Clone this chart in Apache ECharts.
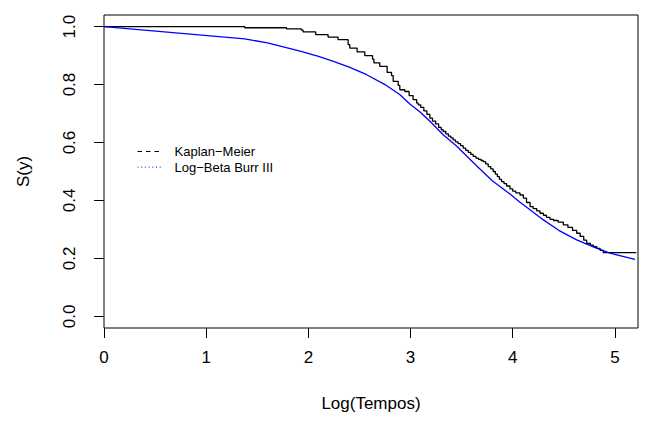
<!DOCTYPE html>
<html>
<head>
<meta charset="utf-8">
<script src="https://cdn.jsdelivr.net/npm/echarts@6/dist/echarts.min.js"></script>
<style>
html,body{margin:0;padding:0;background:#fff;}
#chart{width:648px;height:423px;}
</style>
</head>
<body>
<div id="chart"></div>
<script>
// Kaplan–Meier estimate (log time, survival after each drop)
var kmTime = [0, 1.377, 1.786, 1.932, 1.948, 2.072, 2.193, 2.291, 2.389, 2.405, 2.477, 2.552, 2.628, 2.641, 2.699, 2.771, 2.814, 2.830, 2.879, 2.895, 2.944, 2.986, 3.025, 3.060, 3.075, 3.100, 3.130, 3.160, 3.189, 3.215, 3.245, 3.275, 3.300, 3.319, 3.345, 3.370, 3.395, 3.417, 3.440, 3.465, 3.490, 3.515, 3.540, 3.565, 3.590, 3.613, 3.640, 3.665, 3.690, 3.711, 3.735, 3.760, 3.785, 3.809, 3.830, 3.850, 3.870, 3.891, 3.915, 3.940, 3.973, 4.000, 4.030, 4.071, 4.104, 4.135, 4.170, 4.200, 4.235, 4.267, 4.300, 4.330, 4.365, 4.400, 4.445, 4.495, 4.540, 4.585, 4.626, 4.660, 4.695, 4.724, 4.760, 4.790, 4.822, 4.855, 4.886, 5.210];
var kmSurv = [1.0, 0.996, 0.992, 0.988, 0.982, 0.972, 0.964, 0.955, 0.938, 0.926, 0.913, 0.900, 0.888, 0.875, 0.863, 0.842, 0.831, 0.811, 0.797, 0.782, 0.776, 0.762, 0.748, 0.736, 0.730, 0.721, 0.709, 0.697, 0.684, 0.674, 0.664, 0.652, 0.644, 0.638, 0.630, 0.622, 0.616, 0.609, 0.602, 0.596, 0.589, 0.581, 0.573, 0.566, 0.559, 0.552, 0.546, 0.542, 0.538, 0.534, 0.526, 0.517, 0.509, 0.500, 0.491, 0.482, 0.473, 0.465, 0.458, 0.450, 0.440, 0.432, 0.426, 0.419, 0.408, 0.393, 0.379, 0.372, 0.364, 0.356, 0.349, 0.342, 0.335, 0.331, 0.325, 0.316, 0.307, 0.297, 0.287, 0.276, 0.263, 0.252, 0.246, 0.241, 0.235, 0.228, 0.220, 0.220];

// Fitted Log-Beta Burr III survival
var fitTime = [0, 1.377, 1.6, 1.919, 2.1, 2.245, 2.4, 2.571, 2.75, 2.897, 2.993, 3.093, 3.2, 3.319, 3.45, 3.646, 3.8, 3.973, 4.071, 4.15, 4.30, 4.45, 4.626, 4.8, 4.952, 5.197];
var fitSurv = [1.0, 0.9575, 0.944, 0.915, 0.897, 0.880, 0.860, 0.834, 0.800, 0.765, 0.733, 0.705, 0.670, 0.627, 0.588, 0.520, 0.468, 0.422, 0.394, 0.373, 0.333, 0.297, 0.264, 0.238, 0.218, 0.197];

var xTicks = [0, 1, 2, 3, 4, 5];
var yTicks = [0, 0.2, 0.4, 0.6, 0.8, 1.0];
var seriesNames = ['Kaplan\u2212Meier', 'Log\u2212Beta Burr III'];

function pairs(xs, ys) { return xs.map(function (x, i) { return [x, ys[i]]; }); }

var chart = echarts.init(document.getElementById('chart'), null, {renderer: 'svg'});
var font = 'Liberation Sans, Arial, Helvetica, sans-serif';
chart.setOption({
  backgroundColor: '#fff',
  animation: false,
  textStyle: {fontFamily: font, color: '#000'},
  grid: {left: 104, right: 10, top: 15, bottom: 95, show: true, borderColor: '#000', borderWidth: 1, backgroundColor: 'transparent'},
  legend: {
    orient: 'vertical', left: 137, top: 145, padding: 0,
    itemWidth: 24, itemHeight: 14, itemGap: 2.6,
    textStyle: {fontSize: 13, color: '#000', fontFamily: font, padding: [0, 0, 0, 8]},
    data: [
      {name: seriesNames[0], itemStyle: {opacity: 0}, lineStyle: {type: [4.5, 4], width: 1, color: '#000'}},
      {name: seriesNames[1], itemStyle: {opacity: 0}, lineStyle: {type: [1, 2.7], width: 1, color: '#0000ff'}}
    ]
  },
  xAxis: {
    type: 'value', min: 0, max: 5.226, interval: 1,
    axisLine: {show: false, onZero: false},
    axisTick: {show: true, length: 10, customValues: xTicks, lineStyle: {color: '#000', width: 1}},
    axisLabel: {customValues: xTicks, fontSize: 17, color: '#000', margin: 21, fontFamily: font},
    splitLine: {show: false},
    name: 'Log(Tempos)', nameLocation: 'middle', nameGap: 67,
    nameTextStyle: {fontSize: 17, color: '#000', fontFamily: font}
  },
  yAxis: {
    type: 'value', min: -0.04, max: 1.04,
    axisLine: {show: false, onZero: false},
    axisTick: {show: true, length: 10, customValues: yTicks, lineStyle: {color: '#000', width: 1}},
    axisLabel: {customValues: yTicks, fontSize: 17, color: '#000', rotate: 90, margin: 26, fontFamily: font,
      formatter: function (v) { return v.toFixed(1); }},
    splitLine: {show: false},
    name: 'S(y)', nameLocation: 'middle', nameGap: 72, nameRotate: 90,
    nameTextStyle: {fontSize: 17, color: '#000', fontFamily: font}
  },
  series: [
    {name: seriesNames[0], type: 'line', step: 'end', symbol: 'none', data: pairs(kmTime, kmSurv),
      lineStyle: {color: '#000', width: 1.3}, itemStyle: {color: '#000'}},
    {name: seriesNames[1], type: 'line', symbol: 'none', data: pairs(fitTime, fitSurv),
      lineStyle: {color: '#0000ff', width: 1.3}, itemStyle: {color: '#0000ff'}}
  ]
});
</script>
</body>
</html>
